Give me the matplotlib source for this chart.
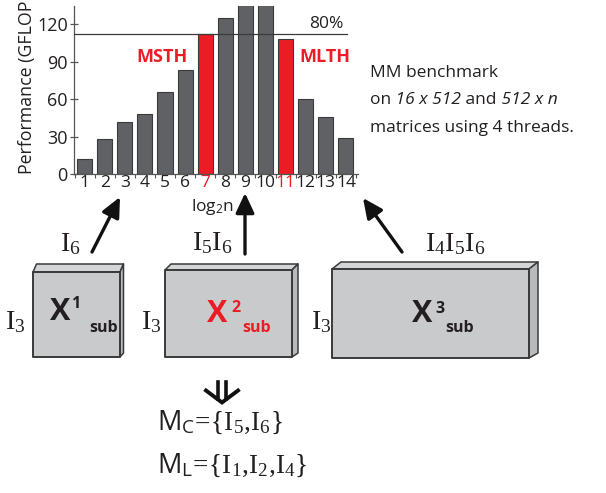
import matplotlib
matplotlib.use('Agg')
import matplotlib.pyplot as plt
from matplotlib.patches import Polygon
from matplotlib.lines import Line2D

plt.rcParams['font.family'] = ['Open Sans', 'DejaVu Sans']
plt.rcParams['mathtext.fontset'] = 'custom'
plt.rcParams['mathtext.rm'] = 'Liberation Serif'
plt.rcParams['mathtext.it'] = 'Liberation Serif:italic'
plt.rcParams['mathtext.bf'] = 'Liberation Serif:bold'
plt.rcParams['mathtext.sf'] = 'Open Sans'

# ---------------- data ----------------
log2n = list(range(1, 15))
gflops = [12.3, 28.3, 41.4, 47.8, 65.9, 83.3, 111.9, 124.8, 140, 140, 108.2, 60.3, 45.4, 29.1]
highlight = [7, 11]
threshold = 112.4
yticks = [0, 30, 60, 90, 120]

TXT = '#231f20'
RED = '#ec1c24'
GRAY = '#606165'
EDGE = '#3a3a3c'

W, H = 606, 493
fig = plt.figure(figsize=(W / 100, H / 100), dpi=100)


def px_axes(l, t, r, b):
    return fig.add_axes([l / W, 1 - b / H, (r - l) / W, (b - t) / H])


ax = px_axes(74, 5.5, 358, 174)
colors = [RED if n in highlight else GRAY for n in log2n]
ax.bar(log2n, gflops, width=0.75, color=colors, edgecolor=EDGE, linewidth=0.8, zorder=2)
xl = (0.475, 14.6)
ax.set_xlim(*xl)
ax.set_ylim(0, 135)
ax.axhline(threshold, xmin=0, xmax=(14.05 - xl[0]) / (xl[1] - xl[0]), color='#3a3a3a', lw=0.9, zorder=3)
ax.set_yticks(yticks)
ax.set_yticklabels([str(v) for v in yticks], fontsize=13, color=TXT)
ax.set_xticks(log2n)
ax.set_xticklabels([str(n) for n in log2n], fontsize=12.5)
for lab, n in zip(ax.get_xticklabels(), log2n):
    lab.set_color(RED if n in highlight else TXT)
ax.set_xticks([n + 0.5 for n in [0] + log2n], minor=True)
ax.tick_params(axis='x', which='major', length=0, pad=1)
ax.tick_params(axis='x', which='minor', length=3, width=0.8, direction='out', color='#555')
ax.tick_params(axis='y', length=6, width=0.9, direction='inout', pad=1.5, color='#555')
for s in ['top', 'right']:
    ax.spines[s].set_visible(False)
for s in ['left', 'bottom']:
    ax.spines[s].set_color('#555')
    ax.spines[s].set_linewidth(0.9)
ax.patch.set_alpha(0)

fig.text(27 / W, 1 - 1 / H, 'Performance (GFLOP', rotation=90, ha='center', va='top',
         fontsize=12.8, color=TXT)

# ---------------- overlay (pixel coordinates) ----------------
ov = fig.add_axes([0, 0, 1, 1])
ov.set_xlim(0, W)
ov.set_ylim(H, 0)
ov.axis('off')

ov.text(212.5, 211, r'log$_\mathsf{2}$n', ha='center', va='baseline', fontsize=12.5, color=TXT)
ov.text(162.5, 61.7, 'MSTH', ha='center', va='baseline', fontsize=13, fontweight='bold', color=RED)
ov.text(324.5, 61.7, 'MLTH', ha='center', va='baseline', fontsize=13, fontweight='bold', color=RED)
ov.text(343, 28.3, '80%', ha='right', va='baseline', fontsize=12.5, color=TXT)

# description text
fs = 12.5
ov.text(370, 77, 'MM benchmark', fontsize=fs, color=TXT, va='baseline')
t = ov.text(370, 104.5, 'on', fontsize=fs, color=TXT, va='baseline')
for piece, style in [(' 16 x 512', 'italic'), (' and', 'normal'), (' 512 x n', 'italic')]:
    t = ov.annotate(piece, xy=(1, 0), xycoords=t, va='bottom', ha='left',
                    fontsize=fs, color=TXT, fontstyle=style)
ov.text(370, 132, 'matrices using 4 threads.', fontsize=fs, color=TXT, va='baseline')

# boxes
FRONT, TOP, SIDE, BEDGE = '#c9cacc', '#d4d5d7', '#b9babc', '#3a3a3a'


def box(x0, y0, x1, y1, dx, dy, sb):
    ov.add_patch(Polygon([(x0, y0), (x0 + dx, y0 + dy), (x1 + dx, y0 + dy), (x1, y0)],
                         closed=True, fc=TOP, ec=BEDGE, lw=1.1, joinstyle='round'))
    ov.add_patch(Polygon([(x1, y0), (x1 + dx, y0 + dy), (x1 + dx, y1 - sb), (x1, y1)],
                         closed=True, fc=SIDE, ec=BEDGE, lw=1.1, joinstyle='round'))
    ov.add_patch(Polygon([(x0, y0), (x1, y0), (x1, y1), (x0, y1)],
                         closed=True, fc=FRONT, ec=BEDGE, lw=1.4, joinstyle='round'))


box(33, 272, 120, 357, 3.5, -8, 4)
box(165, 270, 292, 357, 6, -6, 4)
box(332, 269, 529, 358, 9, -7, 5)

# box labels
for (xx, yy, sup, xs, ys, xsub, col) in [
        (50, 320, '1', 71, 308, 89, TXT),
        (207, 322, '2', 231, 312, 242, RED),
        (412, 322, '3', 435, 313, 445, TXT)]:
    ov.text(xx, yy, 'X', fontsize=22, fontweight='bold', color=col, va='baseline')
    ov.text(xs, ys, sup, fontsize=11.5, fontweight='bold', color=col, va='baseline')
    ov.text(xsub, 332, 'sub', fontsize=11.5, fontweight='bold', color=col, va='baseline')

# index labels
ifs = 20
ov.text(60, 251, r'$\mathrm{I}_6$', fontsize=ifs, color=TXT, va='baseline')
ov.text(192, 250, r'$\mathrm{I}_5\mathrm{I}_6$', fontsize=ifs, color=TXT, va='baseline')
ov.text(425, 251, r'$\mathrm{I}_4\mathrm{I}_5\mathrm{I}_6$', fontsize=ifs, color=TXT, va='baseline')
for x in [5, 141, 311]:
    ov.text(x, 329, r'$\mathrm{I}_3$', fontsize=ifs, color=TXT, va='baseline')

# arrows
for (tx, ty, hx, hy) in [(92, 252, 120, 197), (245, 254, 245, 193), (402, 252, 363, 198)]:
    ov.annotate('', xy=(hx, hy), xytext=(tx, ty),
                arrowprops=dict(arrowstyle='-|>,head_length=0.6,head_width=0.28',
                                mutation_scale=20, lw=2.4, color='#111111',
                                shrinkA=0, shrinkB=0))

# double down arrow
for x in [218, 226]:
    ov.add_line(Line2D([x, x], [382, 399], color='#111111', lw=2.6))
ov.add_line(Line2D([206, 222, 238], [390.5, 402.5, 390.5], color='#111111', lw=2.8,
                   solid_joinstyle='miter'))

# M sets
ov.text(157, 430, r'$\mathsf{M}_\mathsf{C}\!=\!\{\mathrm{I}_5,\!\mathrm{I}_6\}$', fontsize=19.5,
        color=TXT, va='baseline')
ov.text(157, 473, r'$\mathsf{M}_\mathsf{L}\!=\!\{\mathrm{I}_1,\!\mathrm{I}_2,\!\mathrm{I}_4\}$', fontsize=19.5,
        color=TXT, va='baseline')

fig.savefig('out.png', dpi=100)
